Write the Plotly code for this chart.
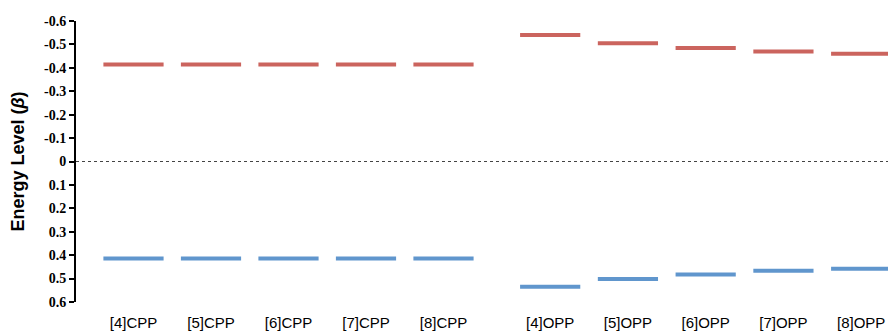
import plotly.graph_objects as go

cpp_labels = ["[4]CPP", "[5]CPP", "[6]CPP", "[7]CPP", "[8]CPP"]
opp_labels = ["[4]OPP", "[5]OPP", "[6]OPP", "[7]OPP", "[8]OPP"]

cpp_lumo = [-0.414, -0.414, -0.414, -0.414, -0.414]
cpp_homo = [0.414, 0.414, 0.414, 0.414, 0.414]
opp_lumo = [-0.540, -0.505, -0.485, -0.470, -0.460]
opp_homo = [0.535, 0.502, 0.483, 0.467, 0.458]

y_ticks = [-0.6, -0.5, -0.4, -0.3, -0.2, -0.1, 0, 0.1, 0.2, 0.3, 0.4, 0.5, 0.6]
y_ticktext = ["-0.6", "-0.5", "-0.4", "-0.3", "-0.2", "-0.1", "0",
              "0.1", "0.2", "0.3", "0.4", "0.5", "0.6"]

RED = "#CB645E"
BLUE = "#6096CD"

def level(x, y, color, xaxis):
    return go.Scatter(
        x=x, y=y, xaxis=xaxis, yaxis="y", mode="markers",
        marker=dict(symbol="line-ew", size=43, color=color,
                    line=dict(color=color, width=4)),
        hoverinfo="skip", showlegend=False)

fig = go.Figure()
fig.add_trace(level(cpp_labels, cpp_lumo, RED, "x"))
fig.add_trace(level(cpp_labels, cpp_homo, BLUE, "x"))
fig.add_trace(level(opp_labels, opp_lumo, RED, "x2"))
fig.add_trace(level(opp_labels, opp_homo, BLUE, "x2"))

split = (490 - 76) / 812
xfont = dict(family="Liberation Sans", size=15, color="#000")

fig.update_layout(
    width=888, height=333,
    margin=dict(l=76, r=0, t=21, b=31),
    plot_bgcolor="white", paper_bgcolor="white",
    xaxis=dict(domain=[0, split], type="category", range=[-0.742, 4.6],
               showgrid=False, zeroline=False, showline=False, ticks="",
               tickfont=xfont, ticklabelstandoff=10, fixedrange=True),
    xaxis2=dict(domain=[split, 1], type="category", range=[-0.774, 4.345],
                anchor="y", showgrid=False, zeroline=False, showline=False,
                ticks="", tickfont=xfont, ticklabelstandoff=10, fixedrange=True),
    yaxis=dict(range=[0.6, -0.6], tickvals=y_ticks, ticktext=y_ticktext,
               showgrid=False, zeroline=False, showline=True,
               linecolor="#000", linewidth=2, ticks="outside", ticklen=5,
               tickwidth=1.5, tickcolor="#000", fixedrange=True,
               tickfont=dict(family="Liberation Serif", size=14,
                             color="#000", weight="bold"),
               title=dict(text="Energy Level (<i>β</i>)", standoff=15,
                          font=dict(family="Liberation Sans", size=18,
                                    color="#000", weight="bold"))),
    shapes=[dict(type="line", xref="paper", yref="y", x0=0, x1=1, y0=0, y1=0,
                 line=dict(color="#444", width=1, dash="dot"), layer="below")],
)

fig.write_html("out.html", config={"displayModeBar": False},
               post_script="document.body.style.margin='0';document.body.style.overflow='hidden';")
